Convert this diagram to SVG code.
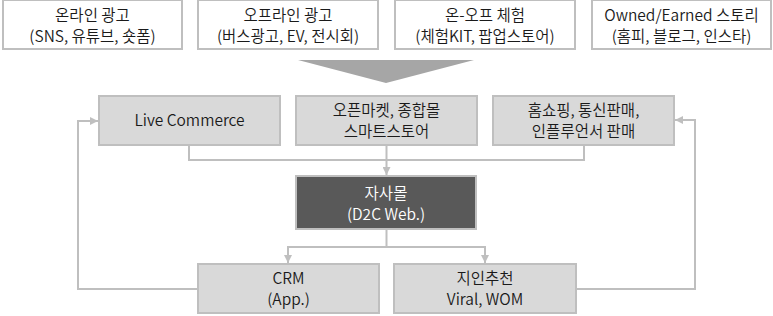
<svg xmlns="http://www.w3.org/2000/svg" width="773" height="316" viewBox="0 0 773 316">
<style>
text{font-family:"Noto Sans CJK KR","Noto Sans",sans-serif;font-size:15.5px;font-weight:350;text-anchor:middle;fill:#1a1a1a}
.top{fill:#ffffff;stroke:#bfbfbf;stroke-width:2}
.mid{fill:#d9d9d9;stroke:#bfbfbf;stroke-width:2}
.dark{fill:#595959;stroke:#bfbfbf;stroke-width:2}
.w{fill:#ffffff}
.ln{fill:none;stroke:#bfbfbf;stroke-width:2}
</style>
<defs>
<marker id="ah" viewBox="0 0 10 10" refX="10" refY="5" markerWidth="4" markerHeight="4" orient="auto" markerUnits="strokeWidth">
<path d="M0,0 L10,5 L0,10 z" fill="#bfbfbf"/>
</marker>
</defs>
<g id="n_online"><rect class="top" x="3" y="0" width="179" height="49"/><text x="92.5" y="21">온라인 광고</text><text x="92.5" y="42">(SNS, 유튜브, 숏폼)</text></g>
<g id="n_offline"><rect class="top" x="198" y="0" width="180" height="49"/><text x="288" y="21">오프라인 광고</text><text x="288" y="42">(버스광고, EV, 전시회)</text></g>
<g id="n_onoff"><rect class="top" x="395" y="0" width="180" height="49"/><text x="485" y="21">온-오프 체험</text><text x="485" y="42">(체험KIT, 팝업스토어)</text></g>
<g id="n_owned"><rect class="top" x="592" y="0" width="179" height="49"/><text x="681.5" y="21">Owned/Earned 스토리</text><text x="681.5" y="42">(홈피, 블로그, 인스타)</text></g>
<g id="n_funnel"><polygon points="298,60 474,60 386,83" fill="#a6a6a6"/></g>
<g id="n_live"><rect class="mid" x="99" y="96" width="181" height="49"/><text x="189.5" y="126">Live Commerce</text></g>
<g id="n_market"><rect class="mid" x="296" y="96" width="181" height="49"/><text x="386.5" y="116">오픈마켓, 종합몰</text><text x="386.5" y="137">스마트스토어</text></g>
<g id="n_home"><rect class="mid" x="493" y="96" width="181" height="49"/><text x="583.5" y="116">홈쇼핑, 통신판매,</text><text x="583.5" y="137">인플루언서 판매</text></g>
<g id="n_d2c"><rect class="dark" x="296" y="176" width="180" height="53"/><text class="w" x="386" y="199">자사몰</text><text class="w" x="386" y="220">(D2C Web.)</text></g>
<g id="n_crm"><rect class="mid" x="198" y="264" width="181" height="49"/><text x="288.5" y="284">CRM</text><text x="288.5" y="305">(App.)</text></g>
<g id="n_viral"><rect class="mid" x="394" y="264" width="182" height="49"/><text x="485" y="284">지인추천</text><text x="485" y="305">Viral, WOM</text></g>
<g id="connectors">
<polyline class="ln" points="189,145 189,160 584,160 584,145"/>
<line class="ln" x1="386.5" y1="145" x2="386.5" y2="175" marker-end="url(#ah)"/>
<polyline class="ln" points="386.5,229 386.5,247"/>
<polyline class="ln" points="288,247 485,247"/>
<line class="ln" x1="288" y1="246" x2="288" y2="263" marker-end="url(#ah)"/>
<line class="ln" x1="485" y1="246" x2="485" y2="263" marker-end="url(#ah)"/>
<polyline class="ln" points="198,289 78,289 78,121 98,121" marker-end="url(#ah)"/>
<polyline class="ln" points="576,289 695,289 695,120 675,120" marker-end="url(#ah)"/>
</g>
</svg>
